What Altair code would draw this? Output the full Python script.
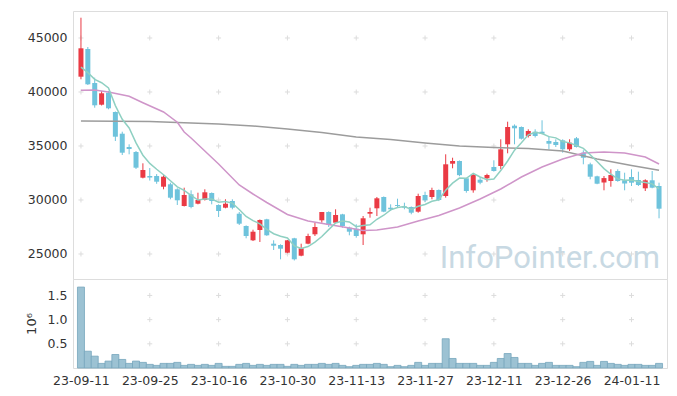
import altair as alt
import pandas as pd

dates = [
    "23-09-11", "23-09-12", "23-09-13", "23-09-14", "23-09-15", "23-09-18", "23-09-19", "23-09-20",
    "23-09-21", "23-09-22", "23-09-25", "23-09-26", "23-09-27", "23-10-04", "23-10-05", "23-10-06",
    "23-10-10", "23-10-11", "23-10-12", "23-10-13", "23-10-16", "23-10-17", "23-10-18", "23-10-19",
    "23-10-20", "23-10-23", "23-10-24", "23-10-25", "23-10-26", "23-10-27", "23-10-30", "23-10-31",
    "23-11-01", "23-11-02", "23-11-03", "23-11-06", "23-11-07", "23-11-08", "23-11-09", "23-11-10",
    "23-11-13", "23-11-14", "23-11-15", "23-11-16", "23-11-17", "23-11-20", "23-11-21", "23-11-22",
    "23-11-23", "23-11-24", "23-11-27", "23-11-28", "23-11-29", "23-11-30", "23-12-01", "23-12-04",
    "23-12-05", "23-12-06", "23-12-07", "23-12-08", "23-12-11", "23-12-12", "23-12-13", "23-12-14",
    "23-12-15", "23-12-18", "23-12-19", "23-12-20", "23-12-21", "23-12-22", "23-12-26", "23-12-27",
    "23-12-28", "24-01-02", "24-01-03", "24-01-04", "24-01-05", "24-01-08", "24-01-09", "24-01-10",
    "24-01-11", "24-01-12", "24-01-15", "24-01-16", "24-01-17",
]

opens = [
    41417, 43981, 40833, 38824, 39935, 38148, 36139, 34907, 34444, 32065,
    32220, 32222, 31231, 31454, 30991, 29444, 30528, 29657, 30000, 30648,
    29537, 29287, 29907, 28731, 27593, 26269, 27222, 28213, 25954, 25833,
    25120, 26454, 24843, 25954, 26824, 28120, 28889, 27898, 28672, 27435,
    27343, 26824, 28731, 29231, 30278, 29287, 29537, 29410, 29352, 28917,
    30463, 30278, 30926, 30370, 33361, 33611, 32009, 30898, 31880, 32009,
    33055, 33148, 35157, 36880, 36759, 35926, 36324, 36324, 35463, 35370,
    35528, 34694, 35713, 34380, 33305, 32194, 31620, 31759, 32685, 31824,
    32130, 31852, 31083, 31824, 31296,
]
highs = [
    46879, 44166, 41324, 40093, 40093, 38200, 36324, 35157, 34537, 33398,
    32960, 32400, 32300, 31602, 31083, 31139, 30898, 30676, 30991, 30700,
    29600, 30065, 30065, 28889, 27650, 27250, 28200, 28260, 26269, 25900,
    26300, 26500, 25954, 26880, 27898, 28889, 28950, 29139, 28720, 27528,
    27750, 28518, 29287, 30278, 30330, 29602, 30120, 29750, 29400, 30583,
    30768, 31139, 30980, 34231, 33916, 33660, 32060, 32400, 32130, 32435,
    33676, 35620, 37250, 37000, 36810, 36546, 36546, 37380, 35926, 35620,
    35620, 35620, 35833, 34600, 33456, 32250, 32222, 32843, 32843, 32528,
    32843, 32620, 31917, 32685, 31602,
]
lows = [
    41175, 40648, 38546, 38750, 38400, 35463, 34166, 34231, 32870, 32000,
    31800, 31500, 30991, 30065, 29537, 29400, 29231, 29600, 29950, 29602,
    28426, 29231, 29139, 27685, 26454, 26200, 26111, 26680, 25370, 24509,
    25070, 24400, 24790, 25900, 26667, 27898, 27500, 27850, 27435, 26731,
    26509, 25833, 28361, 28518, 28870, 28981, 29287, 29139, 28676, 28824,
    29815, 30065, 29900, 30216, 32935, 32200, 30676, 30676, 31454, 31694,
    32630, 32843, 34324, 35157, 35600, 35787, 35787, 36090, 34694, 34907,
    34380, 34537, 34860, 33305, 31917, 31460, 30898, 31231, 31694, 30898,
    31296, 31296, 30833, 31083, 28306,
]
closes = [
    44046, 40713, 38768, 39880, 38490, 35861, 34380, 34722, 32991, 32778,
    32080, 31694, 32157, 30213, 29972, 30463, 29352, 30000, 30713, 29907,
    28981, 29657, 29287, 27806, 26667, 27065, 28148, 26731, 25768, 25491,
    26269, 24509, 25528, 26667, 27500, 28889, 27685, 28611, 27593, 27065,
    26667, 28306, 28889, 30157, 28920, 29139, 29450, 29287, 28824, 30370,
    29972, 30926, 30000, 33305, 33611, 32300, 30833, 32315, 31602, 32315,
    32685, 34694, 36759, 36639, 35676, 36389, 35926, 36139, 35213, 35093,
    34694, 35306, 34907, 33920, 32157, 31509, 32028, 32315, 31759, 31528,
    31602, 31389, 31824, 31139, 29195,
]
volumes = [
    1673000, 347000, 245000, 95000, 143000, 279000, 177000, 95000, 143000, 116000,
    75000, 54000, 95000, 95000, 116000, 54000, 75000, 54000, 75000, 54000,
    95000, 34000, 34000, 75000, 95000, 54000, 75000, 54000, 75000, 75000,
    34000, 75000, 54000, 75000, 75000, 95000, 75000, 95000, 54000, 27000,
    54000, 75000, 75000, 95000, 75000, 27000, 54000, 27000, 54000, 116000,
    54000, 95000, 95000, 605000, 197000, 95000, 95000, 95000, 54000, 54000,
    116000, 197000, 299000, 218000, 95000, 95000, 54000, 95000, 116000, 54000,
    54000, 54000, 27000, 116000, 136000, 54000, 136000, 95000, 75000, 54000,
    75000, 75000, 54000, 54000, 95000,
]
ma5 = [
    42300, 41790, 41175, 40860, 40379, 38742, 37476, 36667, 35289, 34146,
    33390, 32850, 32340, 31780, 31220, 30900, 30431, 30000, 30100, 30087,
    29791, 29852, 29709, 29128, 28480, 28096, 27795, 27283, 26876, 26641,
    26481, 25754, 25513, 25693, 26095, 26619, 27254, 27870, 28056, 27969,
    27524, 27648, 27704, 28217, 28588, 29082, 29311, 29391, 29124, 29414,
    29581, 29876, 30018, 30915, 31563, 32028, 32010, 32473, 32132, 31873,
    31950, 32722, 33611, 34618, 35291, 36031, 36278, 36154, 35869, 35752,
    35413, 35289, 35043, 34784, 34197, 33560, 32904, 32386, 31954, 31828,
    31846, 31719, 31620, 31496, 31030,
]
ma20_idx = [0, 2, 4, 7, 9, 12, 14, 15, 16, 18, 20, 23, 25, 27, 30, 33, 36, 39, 41, 43,
            46, 49, 52, 55, 58, 61, 64, 67, 70, 73, 76, 79, 82, 84]
ma20 = [40157, 40185, 40000, 39600, 39000, 38150, 37200, 36300, 35740, 34537,
        33333, 31389, 30556, 29770, 28657, 28055, 27731, 27407, 27176, 27222,
        27500, 28055, 28565, 29259, 30093, 31019, 32130, 33055, 33796, 34352,
        34444, 34352, 33981, 33333]
ma120_idx = [0, 10, 20, 25, 30, 35, 40, 45, 50, 55, 60, 65, 70, 75, 80, 84]
ma120 = [37315, 37270, 37037, 36852, 36574, 36250, 35833, 35602, 35278, 35000,
         34861, 34768, 34537, 33796, 33194, 32750]

x_ticks = [0, 10, 20, 30, 40, 50, 60, 70, 80]
price_ticks = [25000, 30000, 35000, 40000, 45000]
vol_ticks = [500000, 1000000, 1500000]

RED = "#ea3a44"
BLUE = "#6ec3dc"
FONT = "DejaVu Sans"

n = len(dates)
df = pd.DataFrame({
    "i": list(range(n)), "date": dates, "open": opens, "high": highs,
    "low": lows, "close": closes, "volume": volumes, "ma5": ma5,
})
df["dir"] = ["up" if c >= o else "down" for o, c in zip(opens, closes)]
df20 = pd.DataFrame({"i": ma20_idx, "v": ma20})
df120 = pd.DataFrame({"i": ma120_idx, "v": ma120})
grid_p = pd.DataFrame([{"i": a, "v": b} for a in x_ticks for b in price_ticks])
grid_v = pd.DataFrame([{"i": a, "v": b} for a in x_ticks for b in vol_ticks])
wm = pd.DataFrame({"t": ["InfoPointer.com"]})

xs = alt.Scale(domain=[-0.43, n - 1 + 0.43], nice=False, zero=False)
ys = alt.Scale(domain=[22685, 47500], nice=False, zero=False)
vs = alt.Scale(domain=[0, 1840000], nice=False)
col = alt.Color("dir:N", scale=alt.Scale(domain=["up", "down"], range=[RED, BLUE]), legend=None)

xnone = alt.X("i:Q", scale=xs, axis=None)
plus = "M-1,0L1,0M0,-1L0,1"

price_axis = alt.Axis(values=price_ticks, format="d", ticks=False, domain=False, grid=False,
                      labelFontSize=12.5, labelColor="#333", labelPadding=6, title=None,
                      labelFont=FONT)

watermark = alt.Chart(wm).mark_text(
    font="Roboto", fontSize=31, color="#c8d9e3", align="right", baseline="alphabetic"
).encode(text="t:N", x=alt.value(587), y=alt.value(257))

gp = alt.Chart(grid_p).mark_point(shape=plus, size=25, filled=False, color="#dcdcdc",
                                  strokeWidth=1, opacity=1).encode(
    x=xnone, y=alt.Y("v:Q", scale=ys, axis=price_axis))

wick = alt.Chart(df).mark_rule(strokeWidth=1).encode(
    x=xnone, y=alt.Y("low:Q", scale=ys), y2="high:Q", color=col)
body = alt.Chart(df).mark_bar(size=5).encode(
    x=xnone, y=alt.Y("open:Q", scale=ys), y2="close:Q", color=col)

l120 = alt.Chart(df120).mark_line(color="#9c9c9c", strokeWidth=1.5).encode(
    x=xnone, y=alt.Y("v:Q", scale=ys))
l20 = alt.Chart(df20).mark_line(color="#cf95c9", strokeWidth=1.5).encode(
    x=xnone, y=alt.Y("v:Q", scale=ys))
l5 = alt.Chart(df).mark_line(color="#8fd0c2", strokeWidth=1.5).encode(
    x=xnone, y=alt.Y("ma5:Q", scale=ys))

price = alt.layer(watermark, gp, wick, body, l120, l20, l5).properties(width=594, height=268)

label_map = " : ".join(f"datum.value == {t} ? '{dates[t]}'" for t in x_ticks) + " : ''"
x_axis = alt.Axis(values=x_ticks, labelExpr=label_map, ticks=False, domain=False, grid=False,
                  labelFontSize=12.5, labelColor="#333", labelPadding=6, title=None,
                  labelFont=FONT, labelFlush=False)
vol_axis = alt.Axis(values=vol_ticks, labelExpr="format(datum.value / 1000000, '.1f')",
                    ticks=False, domain=False, grid=False, labelFontSize=12.5,
                    labelColor="#333", labelPadding=6, title="10\u2076",
                    titleFontWeight="normal", titleFontSize=13, titleColor="#333",
                    titleFont=FONT, titlePadding=9, labelFont=FONT)

gv = alt.Chart(grid_v).mark_point(shape=plus, size=25, filled=False, color="#dcdcdc",
                                  strokeWidth=1, opacity=1).encode(
    x=alt.X("i:Q", scale=xs, axis=x_axis), y=alt.Y("v:Q", scale=vs, axis=vol_axis))
vbars = alt.Chart(df).mark_bar(size=7, color="#9cc2d3", stroke="#76a6bc", strokeWidth=0.8).encode(
    x=alt.X("i:Q", scale=xs), y=alt.Y("volume:Q", scale=vs))

volume = alt.layer(gv, vbars).properties(width=594, height=89)

chart = alt.vconcat(price, volume, spacing=0, bounds="flush").properties(
    padding={"left": 16, "top": 2, "right": 0, "bottom": 0}
).configure_view(stroke="#e2e2e2", strokeWidth=1).configure(font=FONT)

chart.save("out.html", embed_options={"renderer": "svg", "actions": False})
